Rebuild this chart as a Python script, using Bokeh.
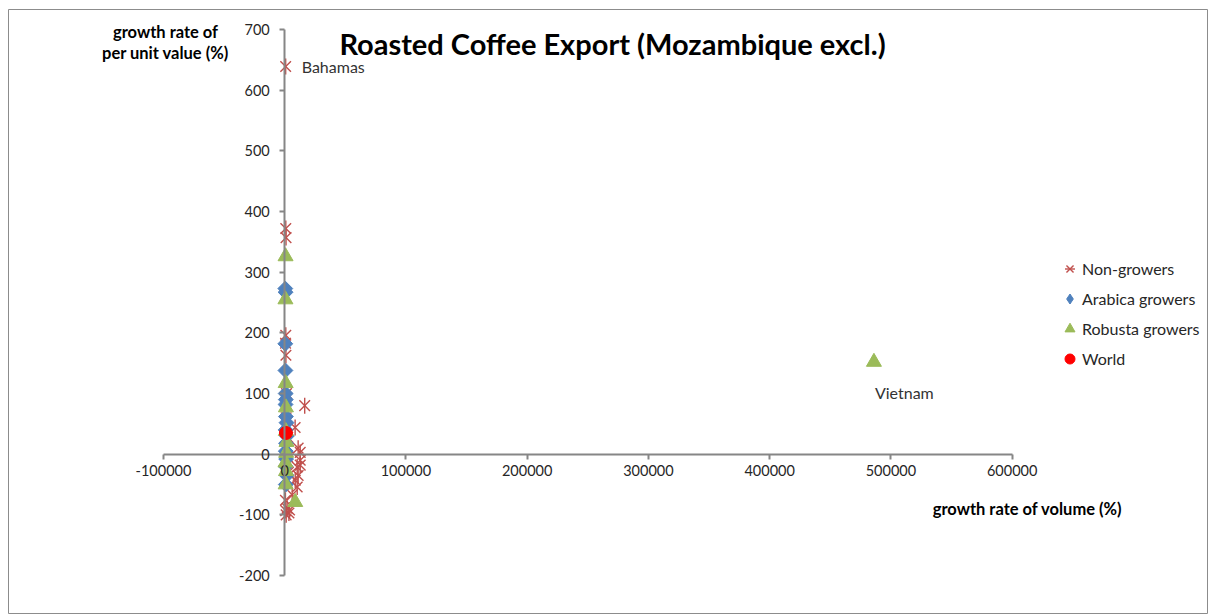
from bokeh.plotting import figure
from bokeh.models import (LinearAxis, FixedTicker, CustomJSTickFormatter, Range1d,
                          Label, Legend, LegendItem)
from bokeh.embed import file_html
from bokeh.resources import INLINE

# ---------------- data (growth rate of volume %, growth rate of per unit value %)
non_x = [800, 900, 1100, 900, 700, 1000, 16500, 8600, 1500, 1200, 1800, 11100,
         12800, 12800, 10300, 12800, 11100, 8700, 10300, 6200, 3000, 2500, 2000,
         800, 3500, 1200, 4000, 600, 2500]
non_y = [639, 372, 357, 196, 183, 163, 80, 44, 100, 60, 22, 10,
         3, -10, -21, -18, -35, -43, -54, -67, -30, -5, -89,
         -93, -97, -100, -92, -76, 28]

arab_x = [500, 700, 500, 600, 800, 900, 700, 1000, 1500, 800, 1800, 1100, 900,
          1200, 700, 1600, 900]
arab_y = [273, 267, 182, 138, 100, 90, 82, 62, 52, 40, 30, 18, 5,
          -8, -20, -35, -50]

rob_x = [700, 600, 800, 1000, 900, 1500, 1200, 600, 1100, 800, 8700, 486000]
rob_y = [326, 255, 117, 77, 38, 20, 2, -14, -28, -50, -79, 152]

world_x = [1000]
world_y = [35]

x_ticks = [-100000, 0, 100000, 200000, 300000, 400000, 500000, 600000]
y_ticks = [-200, -100, 0, 100, 200, 300, 400, 500, 600, 700]

FONT = "Lato"
W, H = 1208, 614

# page-pixel <-> data mapping used only to place text annotations
X0, KX = 284.2, 0.0012124   # px of x=0, px per unit
Y0, KY = 453.7, 0.6067      # px of y=0, px per unit


def dx(px):
    return (px - X0) / KX


def dy(py):
    return (Y0 - py) / KY


FL, FT = 8, 9  # frame left / top offsets (chart border)

p = figure(width=W, height=H, output_backend="svg", toolbar_location=None,
           x_axis_location=None, y_axis_location=None,
           x_range=Range1d(dx(FL), dx(W)), y_range=Range1d(dy(H), dy(FT)),
           min_border=0, min_border_left=FL, min_border_right=0,
           min_border_top=FT, min_border_bottom=0)
p.grid.visible = False
p.outline_line_color = "#8c8c8c"
p.outline_line_width = 1
p.background_fill_color = "white"
p.border_fill_color = "white"

AX = "#868686"
xa = LinearAxis(fixed_location=0, ticker=FixedTicker(ticks=x_ticks),
                formatter=CustomJSTickFormatter(code="return tick.toString();"),
                bounds=(x_ticks[0], x_ticks[-1]))
ya = LinearAxis(fixed_location=0, ticker=FixedTicker(ticks=y_ticks),
                formatter=CustomJSTickFormatter(code="return tick.toString();"),
                bounds=(y_ticks[0], y_ticks[-1]))
for a in (xa, ya):
    a.axis_line_color = AX
    a.axis_line_width = 2
    a.major_tick_line_color = AX
    a.major_tick_line_width = 2
    a.major_tick_in = 0
    a.major_tick_out = 5
    a.minor_tick_line_color = None
    a.major_label_text_font = FONT
    a.major_label_text_font_size = "14.5px"
    a.major_label_text_color = "#262626"
xa.major_label_standoff = 6
ya.major_label_standoff = 10
p.add_layout(xa, "below")
p.add_layout(ya, "left")

STAR = "#C0504D"
BLUE = "#4F81BD"
r_non_x = p.scatter(non_x, non_y, marker="x", size=15, line_color=STAR, line_width=1.4)
r_non_v = p.scatter(non_x, non_y, marker="dash", angle=1.5708, size=16,
                    line_color=STAR, line_width=1.4)
# diamond glyph (used as the legend key) sits under the larger rotated squares
r_arab_key = p.scatter(arab_x, arab_y, marker="diamond", size=12,
                       fill_color=BLUE, line_color=BLUE)
r_arab = p.scatter(arab_x, arab_y, marker="square", angle=0.7854, size=10.5,
                   fill_color=BLUE, line_color=BLUE)
r_rob = p.scatter(rob_x, rob_y, marker="triangle", size=15,
                  fill_color="#9BBB59", line_color="#9BBB59")
r_world = p.scatter(world_x, world_y, marker="circle", size=13,
                    fill_color="#FF0000", line_color="#FF0000")


def lab(px, py, text, size, bold=False, align="center", color="black"):
    p.add_layout(Label(x=dx(px), y=dy(py), text=text, text_font=FONT,
                       text_font_style="bold" if bold else "normal",
                       text_font_size=size, text_color=color,
                       text_align=align, text_baseline="middle"))


lab(612, 43, "Roasted Coffee Export (Mozambique excl.)", "29px", bold=True)
lab(165, 31, "growth rate of", "16.5px", bold=True)
lab(165, 52, "per unit value (%)", "16.5px", bold=True)
lab(1027, 508, "growth rate of volume (%)", "16.5px", bold=True)
p.add_layout(Label(x=non_x[0], y=non_y[0], x_offset=16, text="Bahamas",
                   text_font=FONT, text_font_size="16px", text_color="#333333",
                   text_align="left", text_baseline="middle"))
p.add_layout(Label(x=rob_x[-1], y=rob_y[-1], x_offset=1, y_offset=-31, text="Vietnam",
                   text_font=FONT, text_font_size="16px", text_color="#333333",
                   text_align="left", text_baseline="middle"))

legend = Legend(items=[LegendItem(label="Non-growers", renderers=[r_non_x, r_non_v]),
                       LegendItem(label="Arabica growers", renderers=[r_arab_key]),
                       LegendItem(label="Robusta growers", renderers=[r_rob]),
                       LegendItem(label="World", renderers=[r_world])],
                location=(1057 - FL, 243.5),
                border_line_color=None, background_fill_alpha=0,
                padding=0, margin=0, spacing=5,
                glyph_width=25, glyph_height=25, label_standoff=0,
                label_height=25,
                label_text_font=FONT, label_text_font_size="16px",
                label_text_color="#262626")
p.add_layout(legend)

open("out.html", "w").write(file_html(p, INLINE))
